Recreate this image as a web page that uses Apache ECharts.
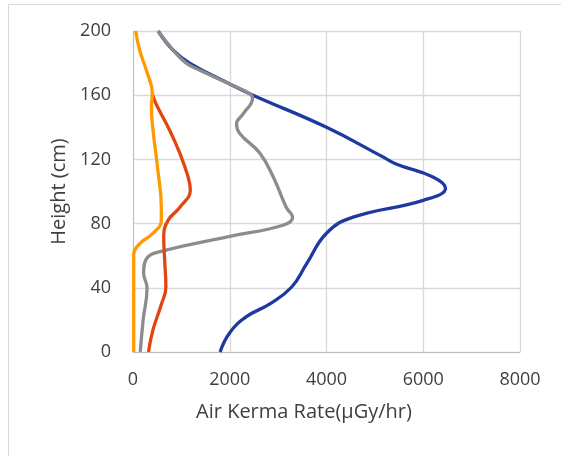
<!DOCTYPE html>
<html><head><meta charset="utf-8">
<script src="https://cdn.jsdelivr.net/npm/echarts@6/dist/echarts.min.js"></script>
<style>html,body{margin:0;padding:0;background:#fff}#c{width:561px;height:456px}</style>
</head><body><div id="c"></div>
<script>
var xTicks = [0, 2000, 4000, 6000, 8000];
var yTicks = [0, 40, 80, 120, 160, 200];

var blueH = [0, 12, 22, 30, 40.5, 55, 74, 84, 94.5, 102, 109, 117, 121.5, 140, 160, 167, 180, 188, 200];
var blueV = [1800, 2000, 2345, 2830, 3280, 3590, 4000, 4550, 6000, 6460, 6200, 5450, 5170, 4000, 2480, 2000, 1170, 830, 520];

var grayH = [0, 20, 40, 49, 58, 63, 72, 79, 84, 90, 109, 124, 136, 142, 148.5, 158, 161, 167, 175.5, 180, 188, 200];
var grayV = [150, 210, 290, 220, 276, 620, 2000, 3100, 3300, 3170, 2900, 2620, 2210, 2140, 2280, 2470, 2410, 2000, 1380, 1100, 830, 520];

var redH = [0, 13.5, 30, 40.5, 57, 72, 82, 90, 101, 109, 124, 138, 155, 161];
var redV = [320, 410, 590, 680, 655, 635, 725, 965, 1185, 1140, 965, 760, 470, 400];

var orangeH = [0, 61, 67.5, 74, 82, 90, 113, 138, 152.6, 161, 175.5, 188, 200];
var orangeV = [15, 15, 140, 415, 585, 585, 515, 415, 380, 400, 276, 138, 55];

function pairs(v, h) { return v.map(function (x, i) { return [x, h[i]]; }); }

var chart = echarts.init(document.getElementById('c'), null, {renderer: 'canvas'});
var font = 'Open Sans';
function mk(name, v, h, color) {
  return {name: name, type: 'line', data: pairs(v, h), smooth: 0.45, showSymbol: false,
    lineStyle: {color: color, width: 3.3}, itemStyle: {color: color}, z: 3};
}
chart.setOption({
  animation: false,
  backgroundColor: '#fff',
  graphic: [{type: 'rect', shape: {x: 8.5, y: 4.5, width: 600, height: 500},
    style: {fill: 'none', stroke: '#d9d9d9', lineWidth: 1}, z: -10}],
  grid: {left: 133, right: 41, top: 31, bottom: 104},
  xAxis: {
    type: 'value', min: 0, max: 8000, interval: 2000,
    name: 'Air Kerma Rate(µGy/hr)', nameLocation: 'middle', nameGap: 50,
    nameTextStyle: {fontFamily: font, fontSize: 20, color: '#404040', padding: [0, 45, 0, 0]},
    axisLine: {show: true, lineStyle: {color: '#bfbfbf', width: 1}},
    axisTick: {show: false},
    axisLabel: {fontFamily: font, fontSize: 18, color: '#404040', margin: 19,
      formatter: function (v) { return xTicks.indexOf(v) >= 0 ? String(v) : ''; }},
    splitLine: {show: true, lineStyle: {color: '#d9d9d9', width: 1.3}}
  },
  yAxis: {
    type: 'value', min: 0, max: 200, interval: 40,
    name: 'Height (cm)', nameLocation: 'middle', nameGap: 64,
    nameTextStyle: {fontFamily: font, fontSize: 20, color: '#404040'},
    axisLine: {show: true, lineStyle: {color: '#bfbfbf', width: 1}},
    axisTick: {show: false},
    axisLabel: {fontFamily: font, fontSize: 18, color: '#404040', margin: 22,
      formatter: function (v) { return yTicks.indexOf(v) >= 0 ? String(v) : ''; }},
    splitLine: {show: true, lineStyle: {color: '#d9d9d9', width: 1.3}}
  },
  series: [
    mk('Blue', blueV, blueH, '#1f3a9f'),
    mk('Gray', grayV, grayH, '#8c8c8c'),
    mk('Red', redV, redH, '#e2450f'),
    mk('Orange', orangeV, orangeH, '#ff9a00')
  ]
});
</script></body></html>
